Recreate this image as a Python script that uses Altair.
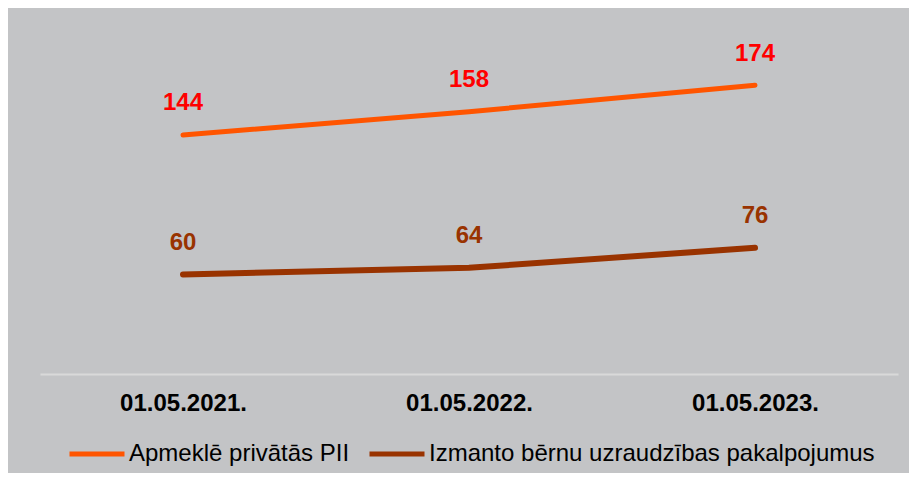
import altair as alt
import pandas as pd

dates = ["01.05.2021.", "01.05.2022.", "01.05.2023."]
series_names = ["Apmeklē privātās PII", "Izmanto bērnu uzraudzības pakalpojumus"]
private_pii = [144, 158, 174]
supervision = [60, 64, 76]

rows = []
for d, v in zip(dates, private_pii):
    rows.append({"date": d, "series": series_names[0], "value": v})
for d, v in zip(dates, supervision):
    rows.append({"date": d, "series": series_names[1], "value": v})
df = pd.DataFrame(rows)

FONT = "Liberation Sans"

x = alt.X(
    "date:N",
    sort=dates,
    title=None,
    scale=alt.Scale(type="point", padding=0.5),
    axis=alt.Axis(
        labelAngle=0,
        labelFont=FONT,
        labelFontSize=24,
        labelFontWeight="bold",
        labelColor="#000000",
        labelBaseline="middle",
        labelPadding=29,
        ticks=False,
        tickSize=0,
        domain=True,
        domainColor="#D9D9D9",
        domainWidth=2,
        grid=False,
    ),
)
y = alt.Y("value:Q", title=None, axis=None, scale=alt.Scale(domain=[0, 200]))

lines = alt.Chart(df).mark_line(strokeCap="round", strokeJoin="round").encode(
    x=x,
    y=y,
    color=alt.Color(
        "series:N",
        sort=series_names,
        scale=alt.Scale(domain=series_names, range=["#FF5500", "#993300"]),
        legend=alt.Legend(
            title=None,
            orient="none",
            direction="horizontal",
            legendX=27,
            legendY=382,
            symbolType="stroke",
            symbolSize=3025,
            symbolStrokeWidth=5,
            labelFont=FONT,
            labelFontSize=24,
            labelColor="#000000",
            labelLimit=1000,
            labelOffset=2,
            columnPadding=9,
            padding=0,
        ),
    ),
    strokeWidth=alt.StrokeWidth(
        "series:N",
        scale=alt.Scale(domain=series_names, range=[5, 6]),
        legend=None,
    ),
)

labels = alt.Chart(df).mark_text(
    font=FONT, fontSize=24, fontWeight="bold", baseline="middle", align="center", dy=-31.5
).encode(
    x=x,
    y=y,
    text=alt.Text("value:Q"),
    color=alt.Color(
        "series:N",
        scale=alt.Scale(domain=series_names, range=["#FF0000", "#993300"]),
        legend=None,
    ),
)

chart = (
    alt.layer(lines, labels)
    .resolve_scale(color="independent")
    .properties(
        width=858,
        height=332,
        autosize=alt.AutoSizeParams(type="none"),
        padding={"left": 32, "top": 34, "right": 11, "bottom": 99},
        background="#C3C4C6",
    )
    .configure_view(stroke=None)
)

chart.save("out.html", embed_options={"renderer": "svg", "actions": False})
